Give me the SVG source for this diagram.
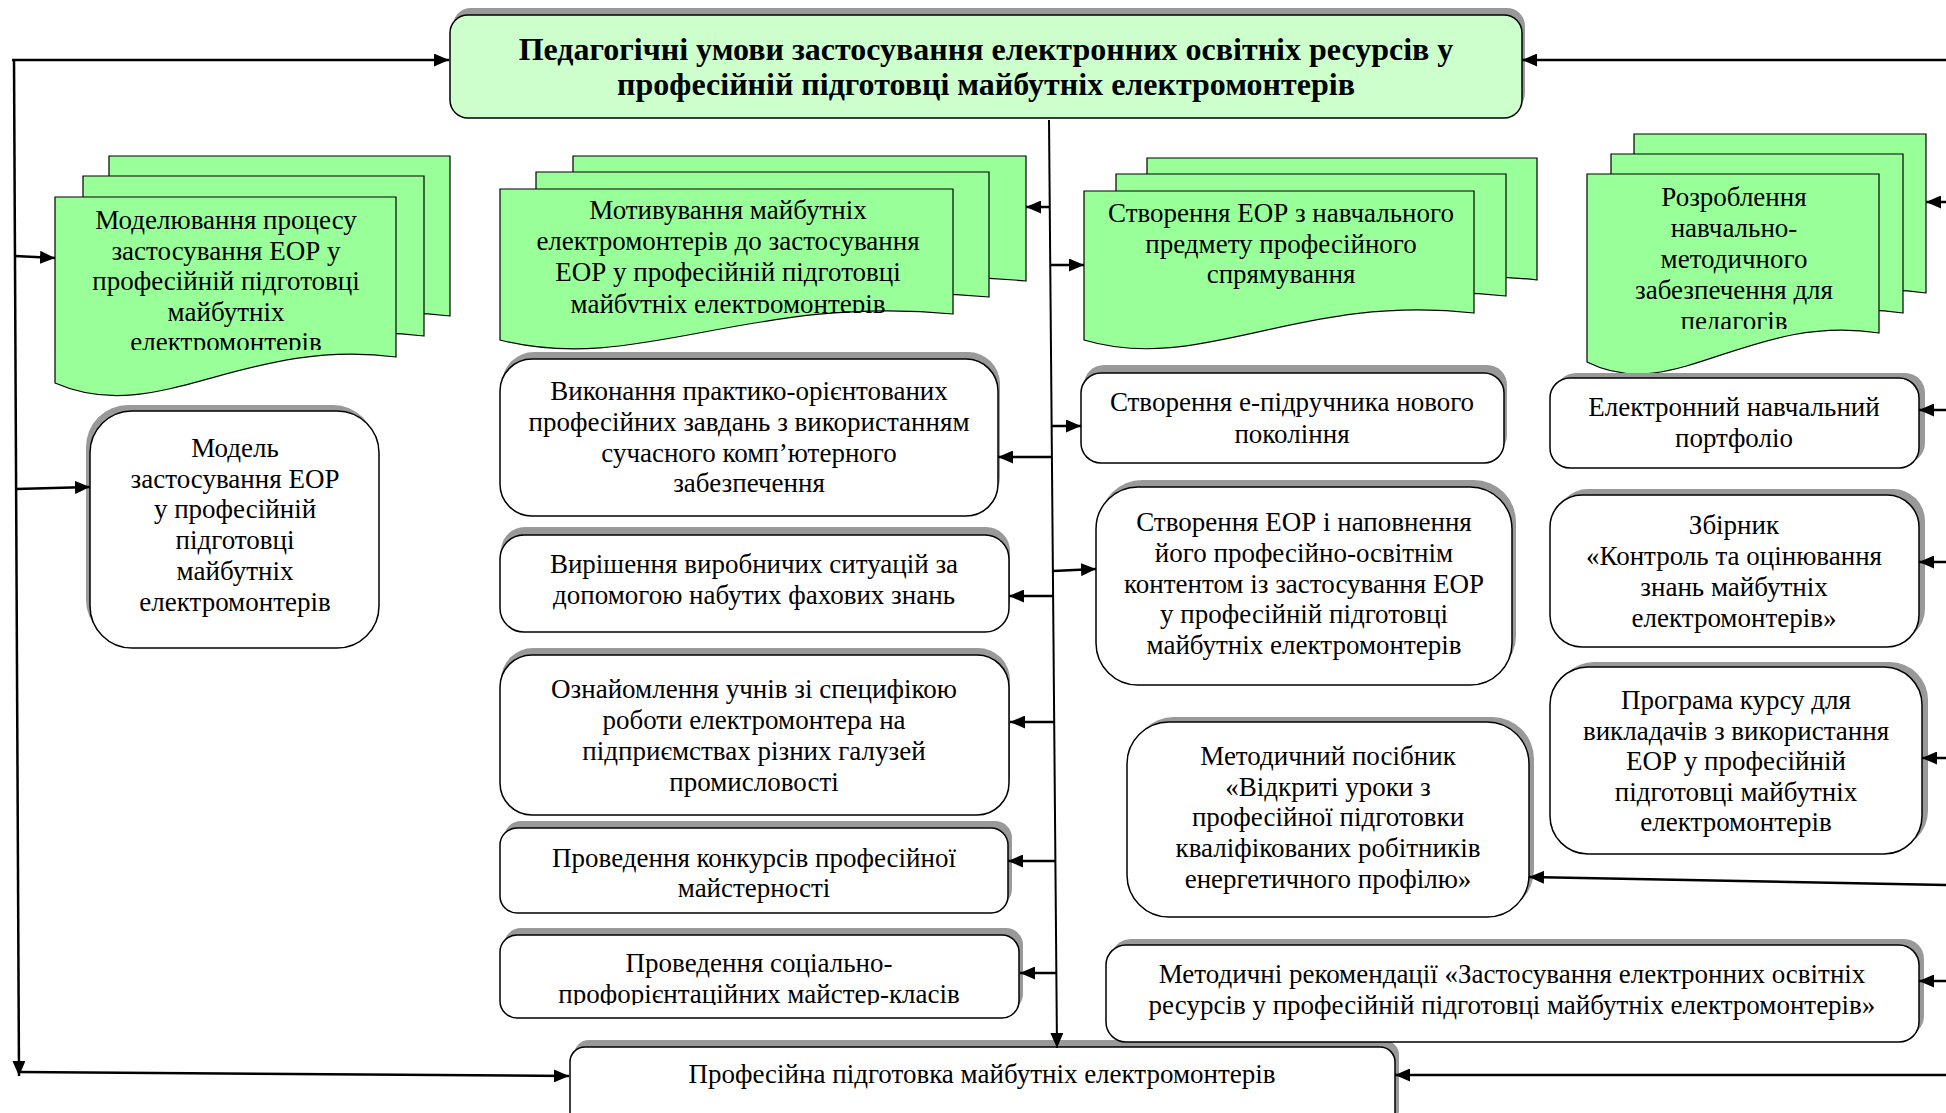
<svg xmlns="http://www.w3.org/2000/svg" width="1946" height="1113" viewBox="0 0 1946 1113">
  <style>
    .box { fill: #ffffff; stroke: #000000; stroke-width: 1.5; }
    .hdr { fill: #ccffcc; stroke: #000000; stroke-width: 1.5; }
    .shd { fill: #999999; stroke: none; }
    .doc { fill: #99ff99; stroke: #000000; stroke-width: 1.2; }
    .t { font-family: "Liberation Serif", "Times New Roman", serif; font-size: 27px; fill: #000000; text-anchor: middle; }
    .tb { font-family: "Liberation Serif", "Times New Roman", serif; font-size: 32px; font-weight: bold; fill: #000000; text-anchor: middle; }
    .ln { fill: none; stroke: #000000; stroke-width: 2.5; marker-end: url(#arr); }
    .lt { fill: none; stroke: #000000; stroke-width: 2; marker-end: url(#arr); }
  </style>
  <defs>
    <marker id="arr" markerUnits="userSpaceOnUse" viewBox="0 0 15 13" markerWidth="15" markerHeight="13" refX="15" refY="6.5" orient="auto">
      <path d="M0,0 L15,6.5 L0,13 Z" fill="#000000"/>
    </marker>
    <clipPath id="clipA"><rect x="55" y="197" width="341" height="153"/></clipPath>
    <clipPath id="clipB"><rect x="500" y="189" width="453" height="124"/></clipPath>
    <clipPath id="clipD"><rect x="1587" y="174" width="292" height="155"/></clipPath>
    <clipPath id="clipS"><rect x="500" y="935" width="519" height="70"/></clipPath>
  </defs>

  <!-- header -->
  <g id="header">
    <rect class="shd" x="453" y="8" width="1072" height="103" rx="18"/>
    <rect class="hdr" x="450" y="15" width="1072" height="103" rx="18"/>
    <text class="tb"><tspan x="986" y="60">Педагогічні умови застосування електронних освітніх ресурсів у</tspan><tspan x="986" y="95">професійній підготовці майбутніх електромонтерів</tspan></text>
  </g>

  <!-- stacked document shapes -->
  <g id="doc-modeling">
    <path class="doc" d="M109,156 H450 V316 C296.6,296 211.3,387 109,342 Z"/>
    <path class="doc" d="M83,176 H424 V336 C270.6,316 185.3,407 83,362 Z"/>
    <path class="doc" d="M55,197 H396 V357 C242.6,337 157.3,428 55,383 Z"/>
    <text class="t" clip-path="url(#clipA)"><tspan x="226" y="229">Моделювання процесу</tspan><tspan x="226" y="259.5">застосування ЕОР у</tspan><tspan x="226" y="290">професійній  підготовці</tspan><tspan x="226" y="320.5">майбутніх</tspan><tspan x="226" y="351">електромонтерів</tspan></text>
  </g>

  <g id="doc-motivation">
    <path class="doc" d="M573,156 H1026 V281 C822,261 709,342 573,307 Z"/>
    <path class="doc" d="M536,172 H989 V297 C785,277 672,358 536,323 Z"/>
    <path class="doc" d="M500,189 H953 V314 C749,294 636,375 500,340 Z"/>
    <text class="t" clip-path="url(#clipB)"><tspan x="728" y="219">Мотивування майбутніх</tspan><tspan x="728" y="250">електромонтерів до застосування</tspan><tspan x="728" y="281">ЕОР у професійній підготовці</tspan><tspan x="728" y="313">майбутніх  електромонтерів</tspan></text>
  </g>

  <g id="doc-creation">
    <path class="doc" d="M1147,158 H1537 V280 C1361.5,260 1264,342 1147,307 Z"/>
    <path class="doc" d="M1116,174 H1506 V296 C1330.5,276 1233,358 1116,323 Z"/>
    <path class="doc" d="M1084,191 H1474 V313 C1298.5,293 1201,375 1084,340 Z"/>
    <text class="t"><tspan x="1281" y="222">Створення ЕОР з навчального</tspan><tspan x="1281" y="252.5">предмету професійного</tspan><tspan x="1281" y="283">спрямування</tspan></text>
  </g>

  <g id="doc-methodical">
    <path class="doc" d="M1634,134 H1926 V293 C1794.6,273 1721.6,366 1634,322 Z"/>
    <path class="doc" d="M1611,154 H1903 V313 C1771.6,293 1698.6,386 1611,342 Z"/>
    <path class="doc" d="M1587,174 H1879 V333 C1747.6,313 1674.6,406 1587,362 Z"/>
    <text class="t" clip-path="url(#clipD)"><tspan x="1734" y="206">Розроблення</tspan><tspan x="1734" y="237">навчально-</tspan><tspan x="1734" y="268">методичного</tspan><tspan x="1734" y="299">забезпечення для</tspan><tspan x="1734" y="330">педагогів</tspan></text>
  </g>

  <!-- left column -->
  <g id="model">
    <rect class="shd" x="86" y="405" width="289" height="237" rx="42"/>
    <rect class="box" x="90" y="411" width="289" height="237" rx="42"/>
    <text class="t"><tspan x="235" y="457">Модель</tspan><tspan x="235" y="487.5">застосування ЕОР</tspan><tspan x="235" y="518">у професійній</tspan><tspan x="235" y="549">підготовці</tspan><tspan x="235" y="580">майбутніх</tspan><tspan x="235" y="611">електромонтерів</tspan></text>
  </g>

  <!-- middle column -->
  <g id="practice-tasks">
    <rect class="shd" x="502" y="352" width="498" height="157" rx="32"/>
    <rect class="box" x="500" y="359" width="498" height="157" rx="32"/>
    <text class="t"><tspan x="749" y="400">Виконання практико-орієнтованих</tspan><tspan x="749" y="431">професійних завдань з використанням</tspan><tspan x="749" y="462">сучасного комп’ютерного</tspan><tspan x="749" y="492">забезпечення</tspan></text>
  </g>

  <g id="situations">
    <rect class="shd" x="501" y="527" width="509" height="97" rx="24"/>
    <rect class="box" x="500" y="535" width="509" height="97" rx="24"/>
    <text class="t"><tspan x="754" y="573">Вирішення виробничих ситуацій за</tspan><tspan x="754" y="604">допомогою набутих фахових знань</tspan></text>
  </g>

  <g id="acquaintance">
    <rect class="shd" x="501" y="648" width="509" height="160" rx="32"/>
    <rect class="box" x="500" y="655" width="509" height="160" rx="32"/>
    <text class="t"><tspan x="754" y="698">Ознайомлення учнів зі специфікою</tspan><tspan x="754" y="729">роботи  електромонтера на</tspan><tspan x="754" y="760">підприємствах різних галузей</tspan><tspan x="754" y="791">промисловості</tspan></text>
  </g>

  <g id="contests">
    <rect class="shd" x="504" y="821" width="508" height="85" rx="17"/>
    <rect class="box" x="500" y="828" width="508" height="85" rx="17"/>
    <text class="t"><tspan x="754" y="867">Проведення конкурсів професійної</tspan><tspan x="754" y="897">майстерності</tspan></text>
  </g>

  <g id="master-classes">
    <rect class="shd" x="504" y="928" width="519" height="83" rx="17"/>
    <rect class="box" x="500" y="935" width="519" height="83" rx="17"/>
    <text class="t" clip-path="url(#clipS)"><tspan x="759" y="972">Проведення соціально-</tspan><tspan x="759" y="1003">профорієнтаційних майстер-класів</tspan></text>
  </g>

  <g id="training">
    <rect class="shd" x="574" y="1040" width="825" height="85" rx="15"/>
    <rect class="box" x="570" y="1047" width="825" height="85" rx="15"/>
    <text class="t"><tspan x="982" y="1083">Професійна підготовка майбутніх електромонтерів</tspan></text>
  </g>

  <!-- right-middle column -->
  <g id="e-textbook">
    <rect class="shd" x="1084" y="365" width="423" height="90" rx="20"/>
    <rect class="box" x="1081" y="373" width="423" height="90" rx="20"/>
    <text class="t"><tspan x="1292" y="411">Створення е-підручника нового</tspan><tspan x="1292" y="443">покоління</tspan></text>
  </g>

  <g id="eor-content">
    <rect class="shd" x="1100" y="480" width="416" height="198" rx="42"/>
    <rect class="box" x="1096" y="487" width="416" height="198" rx="42"/>
    <text class="t"><tspan x="1304" y="531">Створення ЕОР і наповнення</tspan><tspan x="1304" y="562">його професійно-освітнім</tspan><tspan x="1304" y="592.5">контентом із застосування ЕОР</tspan><tspan x="1304" y="623">у професійній підготовці</tspan><tspan x="1304" y="654">майбутніх електромонтерів</tspan></text>
  </g>

  <g id="open-lessons">
    <rect class="shd" x="1132" y="717" width="402" height="195" rx="42"/>
    <rect class="box" x="1127" y="722" width="402" height="195" rx="42"/>
    <text class="t"><tspan x="1328" y="765">Методичний посібник</tspan><tspan x="1328" y="795.5">«Відкриті уроки з</tspan><tspan x="1328" y="826">професійної підготовки</tspan><tspan x="1328" y="857">кваліфікованих робітників</tspan><tspan x="1328" y="888">енергетичного профілю»</tspan></text>
  </g>

  <g id="recommendations">
    <rect class="shd" x="1111" y="939" width="813" height="97" rx="20"/>
    <rect class="box" x="1106" y="945" width="813" height="97" rx="20"/>
    <text class="t"><tspan x="1512" y="983">Методичні рекомендації «Застосування електронних освітніх</tspan><tspan x="1512" y="1014">ресурсів у професійній підготовці майбутніх електромонтерів»</tspan></text>
  </g>

  <!-- right column -->
  <g id="portfolio">
    <rect class="shd" x="1556" y="373" width="369" height="90" rx="20"/>
    <rect class="box" x="1550" y="378" width="369" height="90" rx="20"/>
    <text class="t"><tspan x="1734" y="416">Електронний навчальний</tspan><tspan x="1734" y="447">портфоліо</tspan></text>
  </g>

  <g id="assessment">
    <rect class="shd" x="1556" y="489" width="369" height="152" rx="32"/>
    <rect class="box" x="1550" y="495" width="369" height="152" rx="32"/>
    <text class="t"><tspan x="1734" y="534">Збірник</tspan><tspan x="1734" y="565">«Контроль та  оцінювання</tspan><tspan x="1734" y="596">знань майбутніх</tspan><tspan x="1734" y="627">електромонтерів»</tspan></text>
  </g>

  <g id="course-program">
    <rect class="shd" x="1556" y="662" width="372" height="187" rx="38"/>
    <rect class="box" x="1550" y="667" width="372" height="187" rx="38"/>
    <text class="t"><tspan x="1736" y="709">Програма курсу для</tspan><tspan x="1736" y="739.5">викладачів з використання</tspan><tspan x="1736" y="770">ЕОР у професійній</tspan><tspan x="1736" y="801">підготовці майбутніх</tspan><tspan x="1736" y="831">електромонтерів</tspan></text>
  </g>

  <!-- connectors -->
  <g id="connectors">
    <path class="ln" d="M12,60 L449,60"/>
    <path class="ln" d="M14,59 L19,1076"/>
    <path class="ln" d="M19,1072 L569,1076"/>
    <path class="ln" d="M15,256 L55,258"/>
    <path class="ln" d="M16,489 L90,487"/>
    <path class="ln" d="M1946,60 L1522,60"/>

    <path class="lt" d="M1049,120 L1057,1048"/>
    <path class="ln" d="M1050,207 L1026,207"/>
    <path class="ln" d="M1052,457 L998,457"/>
    <path class="ln" d="M1053,596 L1009,596"/>
    <path class="ln" d="M1054,722 L1010,722"/>
    <path class="ln" d="M1055,861 L1008,861"/>
    <path class="ln" d="M1056,973 L1020,973"/>
    <path class="ln" d="M1050,265 L1084,265"/>
    <path class="ln" d="M1052,426 L1081,426"/>
    <path class="ln" d="M1053,571 L1096,569"/>

    <path class="ln" d="M1946,202 L1926,202"/>
    <path class="ln" d="M1946,410 L1919,410"/>
    <path class="ln" d="M1946,562 L1919,562"/>
    <path class="ln" d="M1946,758 L1922,758"/>
    <path class="ln" d="M1946,885 L1529,877"/>
    <path class="ln" d="M1946,981 L1919,981"/>
    <path class="ln" d="M1946,1075 L1395,1075"/>
  </g>
</svg>
